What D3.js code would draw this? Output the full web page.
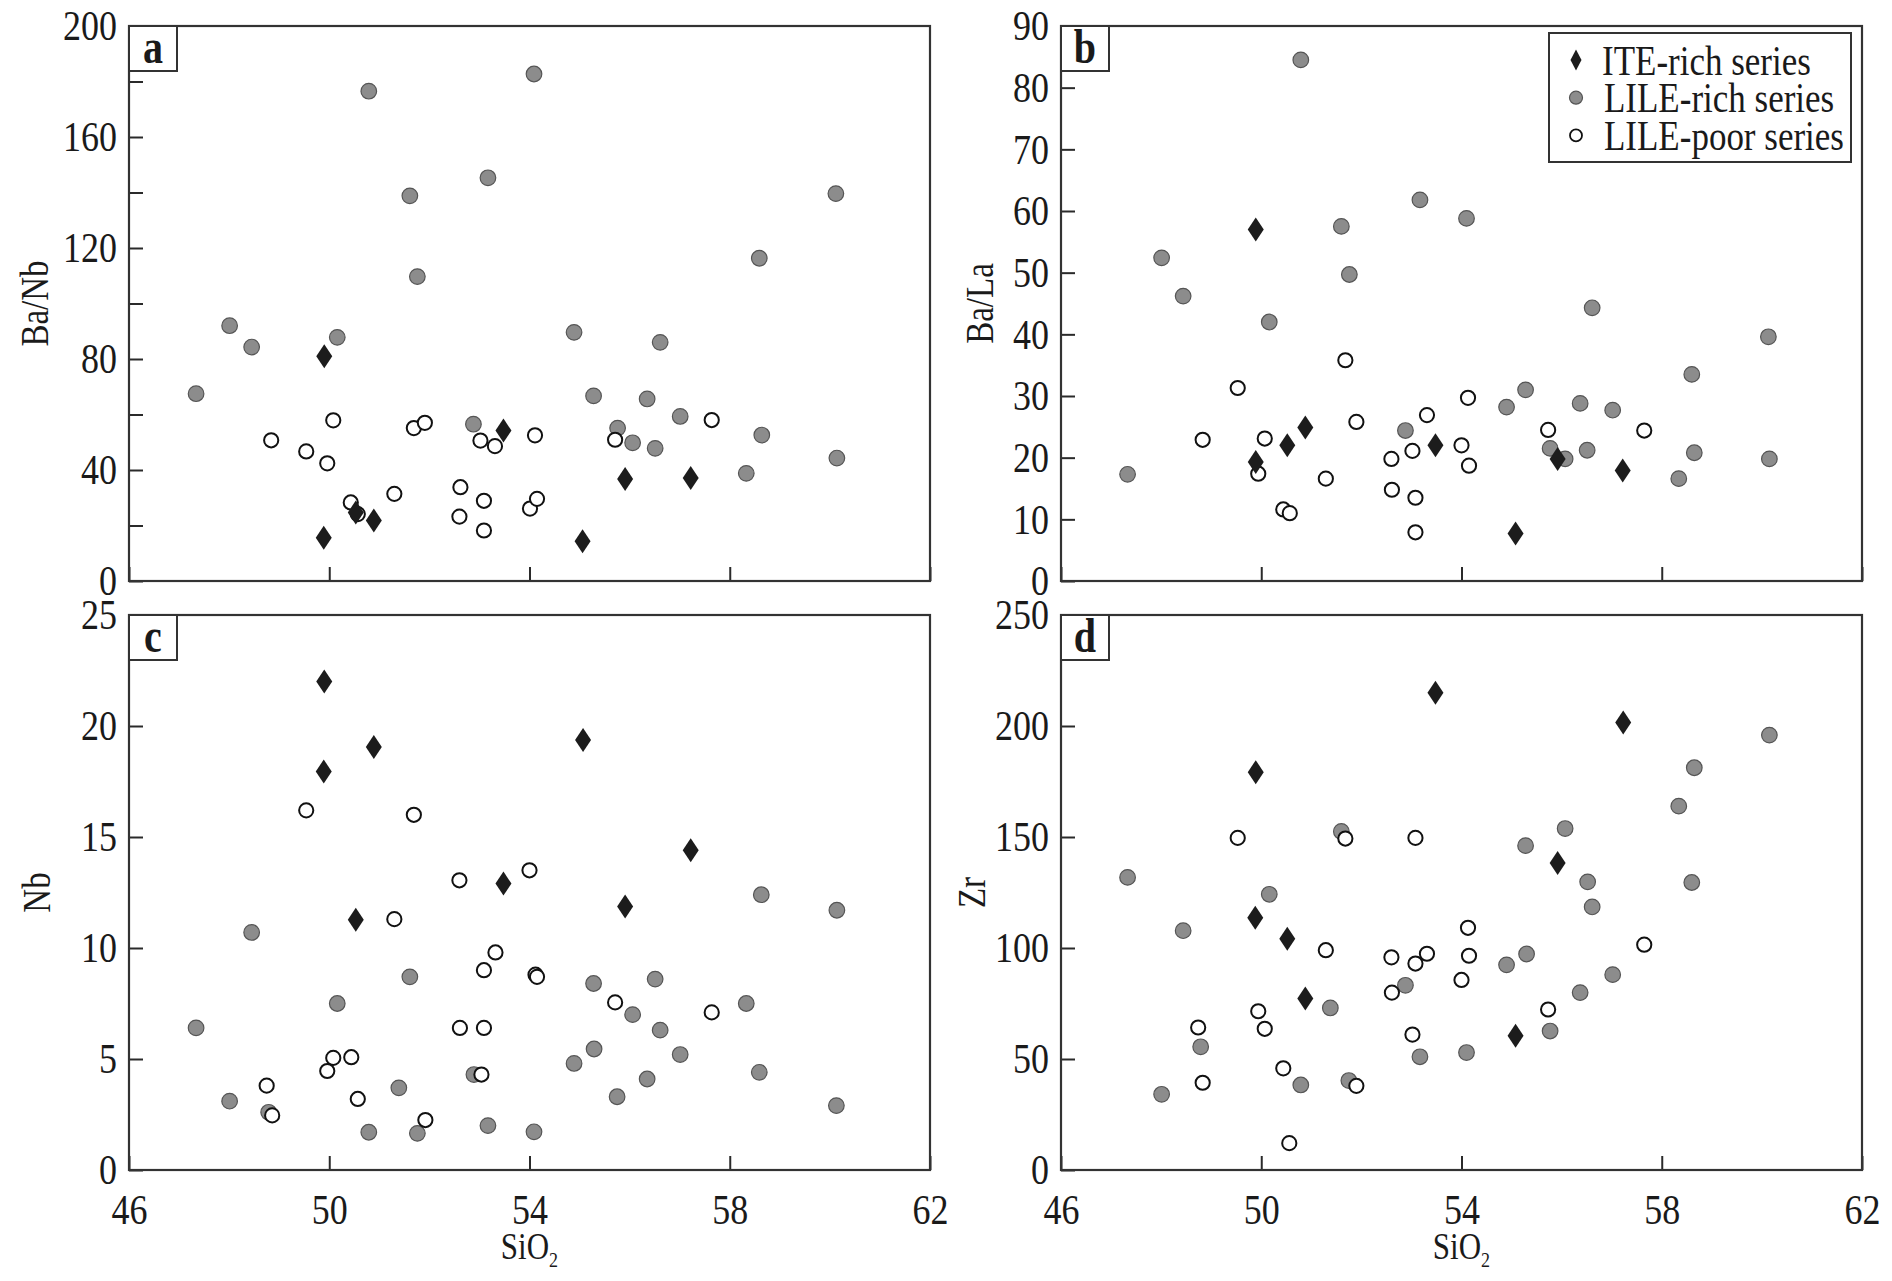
<!DOCTYPE html>
<html>
<head>
<meta charset="utf-8">
<script src="https://cdn.jsdelivr.net/npm/d3@7"></script>
<style>
  body { margin: 0; background: #fff; }
  svg text { font-family: "Liberation Serif", "Times New Roman", serif; fill: #1a1a1a; }
  /* the source figure uses a tall, narrow serif face */
  svg text.tall { transform-box: fill-box; transform-origin: center; transform: scaleY(1.2); }
</style>
</head>
<body>
<svg id="chart" width="1892" height="1281"></svg>
<script>
// SiO2 axis shared by all four panels
var siDomain = [46, 62];
var siTicks = [46, 50, 54, 58, 62];

// panel a : Ba/Nb
var baNbIte = [[49.90,81.0],[49.89,15.6],[50.53,24.7],[50.89,21.8],[53.48,54.2],[55.06,14.3],[55.91,36.8],[57.22,37.1]];
var baNbRich = [[47.34,67.5],[48.01,92.0],[48.45,84.3],[50.16,87.8],[50.79,176.5],[51.61,138.8],[51.76,109.7],[52.88,56.5],[53.17,145.3],[54.09,182.7],[54.89,89.6],[55.28,66.7],[55.76,55.1],[56.06,49.8],[56.35,65.6],[56.51,47.8],[56.61,86.0],[57.01,59.3],[58.33,38.8],[58.59,116.3],[58.64,52.6],[60.12,139.6],[60.14,44.3]];
var baNbPoor = [[48.84,50.7],[49.54,46.7],[49.96,42.4],[50.08,57.9],[50.43,28.3],[50.57,24.1],[51.30,31.4],[51.69,55.1],[51.91,57.0],[52.62,33.8],[52.60,23.2],[53.02,50.6],[53.31,48.6],[53.09,28.9],[53.09,18.2],[54.11,52.5],[54.01,26.1],[54.15,29.6],[55.71,50.9],[57.64,58.0]];

// panel b : Ba/La
var baLaIte = [[49.89,57.0],[49.89,19.3],[50.52,22.0],[50.88,24.9],[53.48,22.0],[55.08,7.7],[55.92,19.8],[57.22,17.9]];
var baLaRich = [[50.79,84.5],[48.01,52.4],[48.44,46.2],[50.16,42.0],[51.60,57.5],[51.76,49.7],[53.17,61.8],[54.10,58.8],[47.33,17.3],[52.88,24.4],[56.61,44.3],[60.13,39.6],[58.60,33.5],[55.28,31.0],[54.90,28.2],[56.37,28.8],[57.02,27.7],[55.77,21.5],[56.07,19.8],[56.51,21.2],[58.65,20.8],[60.15,19.8],[58.34,16.6]];
var baLaPoor = [[48.83,22.9],[49.53,31.3],[49.94,17.4],[50.07,23.1],[50.44,11.6],[50.57,11.0],[51.29,16.6],[51.68,35.8],[51.90,25.8],[52.60,19.8],[52.61,14.8],[53.02,21.1],[53.31,26.9],[53.08,13.5],[53.08,7.9],[54.13,29.7],[54.00,22.0],[54.15,18.7],[55.73,24.5],[57.65,24.4]];

// panel c : Nb
var nbIte = [[49.90,22.0],[49.89,17.95],[50.89,19.05],[50.53,11.27],[53.48,12.9],[55.07,19.37],[57.22,14.4],[55.91,11.87]];
var nbRich = [[47.34,6.4],[48.01,3.1],[48.45,10.7],[48.79,2.6],[50.16,7.5],[50.79,1.7],[51.39,3.7],[51.61,8.7],[51.76,1.65],[52.89,4.3],[53.17,2.0],[54.09,1.72],[58.63,12.4],[60.14,11.7],[55.28,8.4],[56.51,8.6],[56.06,7.0],[56.61,6.3],[58.33,7.5],[57.01,5.2],[55.29,5.45],[54.89,4.8],[56.35,4.1],[55.75,3.3],[58.59,4.4],[60.13,2.9]];
var nbPoor = [[49.54,16.2],[51.69,16.0],[52.60,13.05],[51.30,11.3],[54.00,13.5],[53.32,9.8],[53.09,9.0],[54.12,8.8],[54.15,8.7],[52.61,6.4],[53.09,6.4],[50.08,5.05],[50.44,5.08],[49.96,4.46],[48.75,3.8],[50.57,3.2],[48.86,2.46],[51.92,2.25],[53.04,4.3],[55.71,7.55],[57.64,7.1]];

// panel d : Zr
var zrIte = [[53.48,215.0],[49.89,179.2],[49.88,113.6],[50.52,104.2],[50.88,77.2],[57.23,201.6],[55.92,138.3],[55.08,60.5]];
var zrRich = [[47.33,131.8],[48.44,107.8],[50.16,124.2],[51.60,152.5],[48.01,34.1],[48.79,55.5],[50.79,38.3],[51.38,73.0],[51.75,40.3],[52.88,83.2],[53.17,51.0],[54.10,52.9],[60.15,195.9],[58.65,181.2],[58.34,163.9],[56.07,153.8],[55.28,146.1],[56.52,129.8],[58.60,129.5],[56.61,118.5],[55.30,97.3],[54.90,92.4],[57.02,88.0],[56.37,79.9],[55.77,62.6]];
var zrPoor = [[49.53,149.6],[51.68,149.3],[53.08,149.6],[51.29,99.0],[52.60,95.8],[53.08,93.0],[53.31,97.4],[52.61,79.9],[49.94,71.5],[50.07,63.6],[48.74,64.2],[48.83,39.3],[50.44,45.8],[51.90,37.9],[53.02,61.0],[50.56,12.1],[54.13,109.1],[54.15,96.5],[54.00,85.6],[55.73,72.3],[57.65,101.5]];

var seriesNames = ["ITE-rich series", "LILE-rich series", "LILE-poor series"];

var panels = [
  { tag: "a", left: 129, top: 26, label: "Ba/Nb", labelX: 34, ymax: 200, ticks: d3.range(0, 201, 20), every: 40,
    ite: baNbIte, rich: baNbRich, poor: baNbPoor, xLabels: false },
  { tag: "b", left: 1061, top: 26, label: "Ba/La", labelX: 979, ymax: 90, ticks: d3.range(0, 91, 10), every: 10,
    ite: baLaIte, rich: baLaRich, poor: baLaPoor, xLabels: false, legend: true },
  { tag: "c", left: 129, top: 615, label: "Nb", labelX: 36, ymax: 25, ticks: d3.range(0, 26, 5), every: 5,
    ite: nbIte, rich: nbRich, poor: nbPoor, xLabels: true },
  { tag: "d", left: 1061, top: 615, label: "Zr", labelX: 971, ymax: 250, ticks: d3.range(0, 251, 50), every: 50,
    ite: zrIte, rich: zrRich, poor: zrPoor, xLabels: true }
];

var W = 801, H = 555;
var svg = d3.select("#chart");

// tall thin diamond used for the ITE-rich series
function diamond(w, h) {
  return "M0," + (-h) + "L" + w + ",0L0," + h + "L" + (-w) + ",0Z";
}

panels.forEach(function(p) {
  var g = svg.append("g").attr("transform", "translate(" + p.left + "," + p.top + ")");
  var x = d3.scaleLinear().domain(siDomain).range([0, W]);
  var y = d3.scaleLinear().domain([0, p.ymax]).range([H, 0]);

  // y axis, ticks pointing inward
  var ya = g.append("g")
    .call(d3.axisLeft(y).tickValues(p.ticks).tickSize(-14).tickPadding(12)
      .tickFormat(function(d) { return d % p.every === 0 ? d : ""; }));
  ya.select(".domain").remove();
  ya.selectAll("line").attr("stroke", "#2a2a2a").attr("stroke-width", 2);
  ya.selectAll("text").attr("class", "tall").style("font-size", "36px").attr("fill", "#1a1a1a");

  var xa = g.append("g").attr("transform", "translate(0," + H + ")")
    .call(d3.axisBottom(x).tickValues(siTicks).tickSize(-14).tickPadding(26)
      .tickFormat(p.xLabels ? d3.format("d") : function() { return ""; }));
  xa.select(".domain").remove();
  xa.selectAll("line").attr("stroke", "#2a2a2a").attr("stroke-width", 2);
  xa.selectAll("text").attr("class", "tall").style("font-size", "36px").attr("fill", "#1a1a1a");

  // frame
  g.append("rect").attr("width", W).attr("height", H)
    .attr("fill", "none").attr("stroke", "#333").attr("stroke-width", 2.2);

  // panel tag box
  g.append("rect").attr("width", 48).attr("height", 45)
    .attr("fill", "#fff").attr("stroke", "#333").attr("stroke-width", 2);
  g.append("text").attr("class", "tall").attr("x", 24).attr("y", 34).attr("text-anchor", "middle")
    .style("font-size", "40px").style("font-weight", "bold").text(p.tag);

  // markers
  g.selectAll(".rich").data(p.rich).enter().append("circle")
    .attr("cx", function(d) { return x(d[0]); })
    .attr("cy", function(d) { return y(d[1]); })
    .attr("r", 7.8)
    .attr("fill", "#8c8c8c").attr("stroke", "#555").attr("stroke-width", 1.2);

  g.selectAll(".poor").data(p.poor).enter().append("circle")
    .attr("cx", function(d) { return x(d[0]); })
    .attr("cy", function(d) { return y(d[1]); })
    .attr("r", 7.1)
    .attr("fill", "#fff").attr("stroke", "#111").attr("stroke-width", 2);

  g.selectAll(".ite").data(p.ite).enter().append("path")
    .attr("transform", function(d) { return "translate(" + x(d[0]) + "," + y(d[1]) + ")"; })
    .attr("d", diamond(8, 12))
    .attr("fill", "#1c1c1c");

  // y axis title (rotated group, text stretched inside it)
  svg.append("g")
    .attr("transform", "translate(" + p.labelX + "," + (p.top + H / 2) + ") rotate(-90)")
    .append("text").attr("class", "tall")
    .attr("text-anchor", "middle").attr("dy", "0.35em")
    .style("font-size", "33px").text(p.label);

  if (p.xLabels) {
    var t = svg.append("text").attr("class", "tall")
      .attr("x", p.left + W / 2).attr("y", 1257)
      .attr("text-anchor", "middle").style("font-size", "31px");
    t.append("tspan").text("SiO");
    t.append("tspan").attr("dy", 7).style("font-size", "18px").text("2");
  }

  if (p.legend) {
    var lg = g.append("g").attr("transform", "translate(" + (1549 - p.left) + "," + (33 - p.top) + ")");
    lg.append("rect").attr("width", 302).attr("height", 129)
      .attr("fill", "#fff").attr("stroke", "#333").attr("stroke-width", 2);
    var rows = lg.selectAll(".row").data(seriesNames).enter().append("g")
      .attr("transform", function(d, i) { return "translate(0," + (27 + i * 37.7) + ")"; });
    rows.each(function(d, i) {
      var r = d3.select(this);
      if (i === 0) r.append("path").attr("transform", "translate(27,0)").attr("d", diamond(5.5, 10.5)).attr("fill", "#1c1c1c");
      if (i === 1) r.append("circle").attr("cx", 27).attr("r", 6.5).attr("fill", "#8c8c8c").attr("stroke", "#555").attr("stroke-width", 1.2);
      if (i === 2) r.append("circle").attr("cx", 27).attr("r", 6).attr("fill", "#fff").attr("stroke", "#111").attr("stroke-width", 1.8);
      r.append("text").attr("class", "tall").attr("x", i === 0 ? 53 : 55).attr("dy", "0.35em")
        .style("font-size", "35px").text(d);
    });
  }
});
</script>
</body>
</html>
